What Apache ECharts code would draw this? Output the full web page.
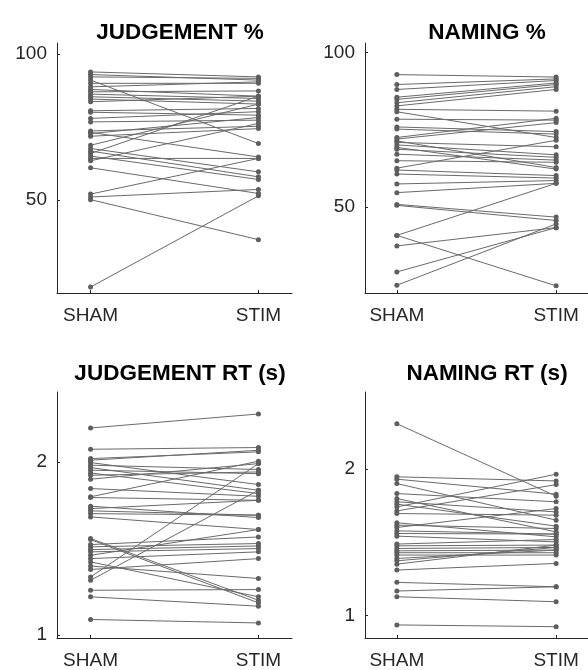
<!DOCTYPE html>
<html>
<head>
<meta charset="utf-8">
<script src="https://cdn.jsdelivr.net/npm/echarts@6/dist/echarts.min.js"></script>
<style>html,body{margin:0;padding:0;background:#fff}#c{width:588px;height:670px}</style>
</head>
<body>
<div id="c"></div>
<script>
var xLabels = ['SHAM', 'STIM'];
var panelTitles = ['JUDGEMENT %', 'NAMING %', 'JUDGEMENT RT (s)', 'NAMING RT (s)'];
var pctTicks = [50, 100];
var rtTicks = [1, 2];

var judgeShamPct = [93.9,93.0,92.2,91.1,90.0,88.8,87.9,87.1,86.3,85.4,84.6,83.7,80.6,80.1,78.0,76.8,73.7,72.8,71.9,73.2,68.8,67.7,66.8,66.0,65.1,64.3,63.5,61.1,52.1,51.1,50.2,20.3];
var judgeStimPct = [92.2,91.1,91.7,69.4,90.0,90.5,85.6,87.4,84.8,83.9,82.9,85.6,81.4,79.1,80.3,77.4,75.3,78.3,74.5,64.8,82.9,59.7,58.0,85.6,57.1,64.3,76.3,52.3,64.3,53.7,36.5,51.5];

var nameShamPct = [92.8,89.6,88.0,85.5,84.8,83.7,82.7,81.6,80.8,78.4,75.9,75.2,72.5,72.0,71.4,70.9,70.1,69.3,68.7,67.1,65.0,62.6,62.0,60.7,57.5,54.7,50.9,50.6,40.9,40.9,37.5,29.1,24.8];
var nameStimPct = [92.0,91.4,90.9,90.1,89.6,88.9,88.0,81.0,72.5,78.1,74.4,73.6,78.7,77.3,62.8,69.5,66.9,62.3,66.1,65.2,64.5,71.6,60.2,59.4,58.6,57.7,46.8,45.7,57.7,24.6,43.4,43.4,44.6];

var judgeShamRT = [2.198,2.075,2.021,2.012,1.998,1.983,1.969,1.954,1.938,1.925,1.902,1.848,1.800,1.796,1.746,1.732,1.719,1.703,1.684,1.559,1.553,1.524,1.511,1.495,1.482,1.462,1.443,1.424,1.400,1.380,1.337,1.318,1.260,1.222,1.091];
var judgeStimRT = [2.279,2.085,2.060,2.069,1.871,1.958,1.838,1.934,1.819,1.944,1.992,1.803,2.006,1.780,1.680,1.780,1.694,1.694,1.611,1.202,1.187,1.568,1.530,1.516,1.501,1.611,1.482,1.222,1.328,1.443,1.992,1.838,1.264,1.168,1.071];

var nameShamRT = [2.308,1.946,1.930,1.900,1.832,1.798,1.776,1.760,1.741,1.714,1.696,1.633,1.617,1.601,1.578,1.560,1.542,1.488,1.476,1.458,1.442,1.429,1.413,1.390,1.374,1.351,1.311,1.227,1.168,1.129,0.937];
var nameStimRT = [1.814,1.918,1.828,1.651,1.776,1.571,1.707,1.610,1.964,1.893,1.685,1.537,1.594,1.730,1.556,1.556,1.503,1.519,1.481,1.465,1.447,1.429,1.413,1.447,1.465,1.481,1.356,1.197,1.197,1.095,0.925];

var FONT = 'Liberation Sans, Arial, Helvetica, sans-serif';
var TXT = '#262626';
var LINE = '#6a6a6a';

var panels = [
  {sham: judgeShamPct, stim: judgeStimPct, ticks: pctTicks, min: 18.25, max: 103.8, grid: {left: 57, top: 43, width: 235, height: 250}, titleX: 175, titleY: 16},
  {sham: nameShamPct, stim: nameStimPct, ticks: pctTicks, min: 22.3, max: 103, grid: {left: 365, top: 43, width: 235, height: 250}, titleX: 482, titleY: 16},
  {sham: judgeShamRT, stim: judgeStimRT, ticks: rtTicks, min: 0.984, max: 2.406, grid: {left: 57, top: 392, width: 235, height: 246}, titleX: 175, titleY: 357},
  {sham: nameShamRT, stim: nameStimRT, ticks: rtTicks, min: 0.848, max: 2.524, grid: {left: 365, top: 392, width: 235, height: 246}, titleX: 482, titleY: 357}
];

var option = {animation: false, backgroundColor: '#fff', title: [], grid: [], xAxis: [], yAxis: [], series: []};
panels.forEach(function (p, i) {
  option.title.push({text: panelTitles[i], left: p.titleX, top: p.titleY, textAlign: 'center',
    textStyle: {fontFamily: FONT, fontWeight: 'bold', fontSize: 22.5, color: '#000'}});
  option.grid.push(Object.assign({containLabel: false}, p.grid));
  option.xAxis.push({type: 'value', gridIndex: i, min: 0.8, max: 2.2,
    axisLine: {show: true, lineStyle: {color: TXT, width: 1}},
    axisTick: {show: true, inside: true, length: 3, customValues: [1, 2], lineStyle: {color: TXT}},
    axisLabel: {customValues: [1, 2], margin: 13, fontFamily: FONT, fontSize: 19, color: TXT,
      formatter: function (v) { return xLabels[Math.round(v) - 1]; }},
    splitLine: {show: false}});
  option.yAxis.push({type: 'value', gridIndex: i, min: p.min, max: p.max,
    axisLine: {show: true, lineStyle: {color: TXT, width: 1}},
    axisTick: {show: true, inside: true, length: 3, customValues: p.ticks, lineStyle: {color: TXT}},
    axisLabel: {customValues: p.ticks, margin: 10, fontFamily: FONT, fontSize: 19, color: TXT,
      padding: [3, 0, 0, 0]},
    splitLine: {show: false}});
  for (var k = 0; k < p.sham.length; k++) {
    option.series.push({type: 'line', xAxisIndex: i, yAxisIndex: i,
      data: [[1, p.sham[k]], [2, p.stim[k]]],
      symbol: 'circle', symbolSize: 5, showSymbol: true,
      lineStyle: {color: LINE, width: 1}, itemStyle: {color: '#5e5e5e'},
      silent: true, z: 2});
  }
});
var chart = echarts.init(document.getElementById('c'), null, {renderer: 'canvas'});
chart.setOption(option);
</script>
</body>
</html>
